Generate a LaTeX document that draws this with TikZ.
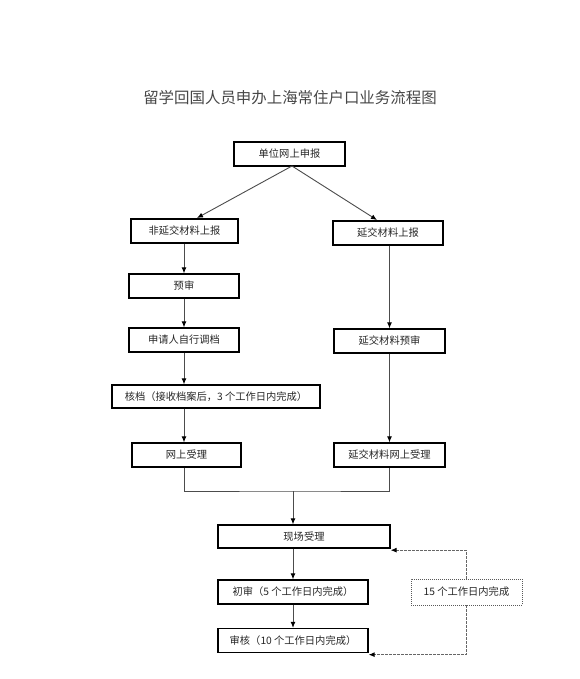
\documentclass[tikz,border=0pt]{standalone}
\usepackage{fontspec}
\setmainfont{Noto Sans CJK SC}
\usetikzlibrary{arrows.meta}
\begin{document}
\begin{tikzpicture}[x=1bp,y=-1bp,
  box/.style={draw=black,line width=1.3bp,minimum height=24bp,inner sep=0pt,
    font=\fontsize{10.3}{12}\selectfont,text=black!85},
  ln/.style={draw=black!70,line width=0.9bp},
  arr/.style={ln,-{Latex[length=6bp,width=5bp,color=black]}},
  dsh/.style={draw=black!60,line width=0.9bp,dash pattern=on 2.5bp off 1.5bp,-{Latex[length=6bp,width=5bp,color=black]}},
  dbox/.style={draw=black!65,line width=0.9bp,dash pattern=on 1bp off 1bp,minimum height=26bp,inner sep=0pt,
    font=\fontsize{10.3}{12}\selectfont,text=black!85}]
\useasboundingbox[fill=white] (0,0) rectangle (580,679);
\node[font=\fontsize{15.5}{19}\selectfont,text=black!72] (title) at (290,98) {留学回国人员申办上海常住户口业务流程图};
\node[box,minimum width=111bp] (top) at (289.5,154) {单位网上申报};
\node[box,minimum width=107bp] (fy) at (184.5,231) {非延交材料上报};
\node[box,minimum width=110bp] (yj) at (388,233) {延交材料上报};
\node[box,minimum width=110bp] (ys) at (184,286) {预审};
\node[box,minimum width=110bp] (sq) at (184,340) {申请人自行调档};
\node[box,minimum width=208bp,minimum height=23bp] (hd) at (216,396.5) {核档（接收档案后，3 个工作日内完成）};
\node[box,minimum width=109bp] (ws) at (186.5,455) {网上受理};
\node[box,minimum width=111bp] (yy) at (389.5,341) {延交材料预审};
\node[box,minimum width=111bp] (yw) at (389.5,455) {延交材料网上受理};
\node[box,minimum width=172bp,minimum height=23bp] (xc) at (304,536.5) {现场受理};
\node[box,minimum width=150bp] (cs) at (293,592) {初审（5 个工作日内完成）};
\node[box,minimum width=150bp] (sh) at (293,640.5) {审核（10 个工作日内完成）};
\node[dbox,minimum width=111bp] (db) at (466.5,592) {15 个工作日内完成};
\coordinate (tb) at (292,166);
\coordinate (la) at (197,218);
\coordinate (ra) at (377,220);
\coordinate (m) at (293,491);
\draw[arr] (tb) -- (la);
\draw[arr] (tb) -- (ra);
\draw[arr] (ys.north |- fy.south) -- (ys.north);
\draw[arr] (ys.south) -- (sq.north);
\draw[arr] (sq.south) -- (hd.north -| sq.south);
\draw[arr] (hd.south -| sq.south) -- (ws.north -| sq.south);
\draw[arr] (yy.north |- yj.south) -- (yy.north);
\draw[arr] (yy.south) -- (yw.north);
\draw[ln] (ws.south -| sq.south) |- (m) -| (yw.south);
\draw[arr] (m) -- (m |- xc.north);
\draw[arr] (xc.south -| cs.north) -- (cs.north);
\draw[arr] (cs.south) -- (sh.north);
\draw[dsh] (db.north) |- ([yshift=-1.5bp]xc.south east);
\draw[dsh] (db.south) |- ([yshift=-1.5bp]sh.south east);
\end{tikzpicture}
\end{document}
